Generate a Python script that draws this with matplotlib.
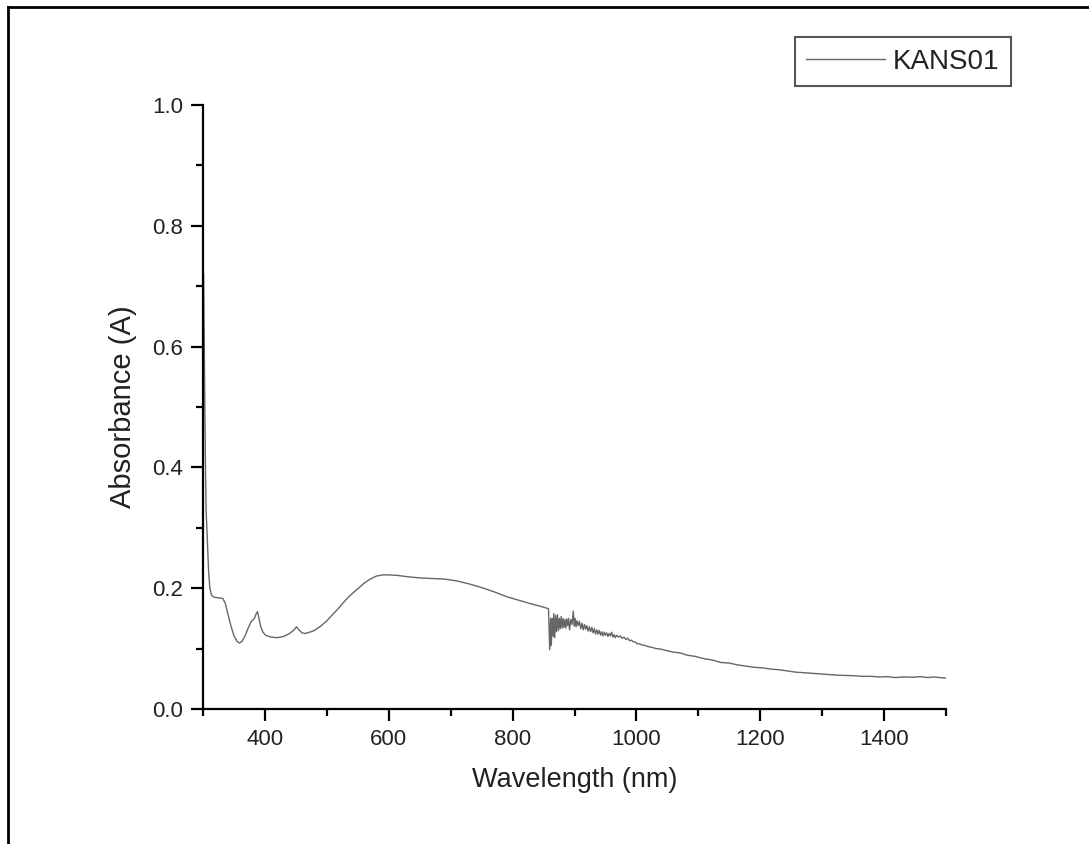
import matplotlib
matplotlib.use("Agg")
import matplotlib.pyplot as plt
from matplotlib.lines import Line2D
from matplotlib.ticker import MultipleLocator
from matplotlib.legend_handler import HandlerLine2D

plt.rcParams['font.family'] = ['Liberation Sans', 'DejaVu Sans']

wl_uv_vis = [301, 302, 303, 304, 305, 307, 309, 311, 314, 318, 325, 332, 336, 340,
             345, 350, 355, 359, 363, 368, 373, 378, 383, 386, 388, 390, 393, 397,
             401, 410, 420, 430, 440, 447, 451, 455, 460, 465, 472, 480, 490, 500,
             510, 520, 530, 540, 550, 560, 570, 580, 590, 600, 615, 630, 650, 670,
             690, 710, 730, 750, 770, 790, 810, 830, 845, 855, 858]
abs_uv_vis = [0.72, 0.60, 0.50, 0.40, 0.33, 0.28, 0.23, 0.20, 0.188, 0.185, 0.184, 0.183,
              0.175, 0.158, 0.138, 0.121, 0.112, 0.109, 0.112, 0.121, 0.134, 0.145,
              0.150, 0.158, 0.161, 0.152, 0.137, 0.127, 0.122, 0.119, 0.118, 0.120,
              0.125, 0.131, 0.136, 0.131, 0.126, 0.125, 0.127, 0.130, 0.137, 0.146,
              0.157, 0.168, 0.180, 0.190, 0.199, 0.208, 0.215, 0.220, 0.222, 0.222,
              0.221, 0.219, 0.217, 0.216, 0.215, 0.212, 0.207, 0.201, 0.194, 0.186,
              0.180, 0.174, 0.170, 0.167, 0.166]

wl_noisy = [860, 861.5, 862.5, 864, 865.5, 866.5, 868, 869.5, 871, 872.5, 874, 875.5,
            877, 878.5, 880, 881.5, 883, 884.5, 886, 887.5, 889, 890.5, 892, 894, 896,
            898, 899.5, 901, 902.5, 904, 906, 908, 910, 912, 914, 916, 918, 920, 922,
            924, 926, 928, 930, 932, 934, 936, 938, 940, 942, 944, 946, 948, 950, 952,
            954, 956, 958, 960, 962, 964, 966, 968, 971, 974, 977, 980, 983, 986, 989,
            992, 995, 998, 1001, 1005, 1009, 1014, 1020, 1025, 1032, 1040, 1047]
abs_noisy = [0.098, 0.150, 0.105, 0.150, 0.120, 0.158, 0.118, 0.155, 0.128, 0.156, 0.130,
             0.150, 0.133, 0.153, 0.134, 0.150, 0.135, 0.148, 0.134, 0.149, 0.138, 0.150,
             0.131, 0.148, 0.140, 0.162, 0.137, 0.150, 0.136, 0.146, 0.138, 0.145, 0.133,
             0.142, 0.131, 0.140, 0.132, 0.138, 0.129, 0.136, 0.128, 0.135, 0.126, 0.133,
             0.124, 0.131, 0.124, 0.130, 0.122, 0.128, 0.121, 0.127, 0.122, 0.126, 0.120,
             0.125, 0.121, 0.127, 0.119, 0.123, 0.118, 0.122, 0.119, 0.121, 0.117, 0.119,
             0.115, 0.117, 0.113, 0.114, 0.111, 0.111, 0.108, 0.108, 0.106, 0.105, 0.103,
             0.102, 0.100, 0.099, 0.097]

wl_nir = [1060, 1070, 1082, 1095, 1110, 1123, 1136, 1150, 1163, 1177, 1190, 1204, 1217,
          1230, 1244, 1257, 1270, 1284, 1297, 1310, 1324, 1337, 1351, 1365, 1378, 1392,
          1405, 1418, 1432, 1445, 1459, 1470, 1480, 1490, 1500]
abs_nir = [0.094, 0.093, 0.089, 0.087, 0.083, 0.081, 0.077, 0.076, 0.073, 0.071, 0.069,
           0.068, 0.066, 0.065, 0.063, 0.061, 0.060, 0.059, 0.058, 0.057, 0.056, 0.0555,
           0.055, 0.054, 0.054, 0.053, 0.0535, 0.052, 0.053, 0.0525, 0.0535, 0.052,
           0.053, 0.052, 0.051]

wavelength = wl_uv_vis + wl_noisy + wl_nir
absorbance = abs_uv_vis + abs_noisy + abs_nir

series_label = "KANS01"
x_label = "Wavelength (nm)"
y_label = "Absorbance (A)"
x_ticks = [400, 600, 800, 1000, 1200, 1400]
y_ticks = [0.0, 0.2, 0.4, 0.6, 0.8, 1.0]

fig = plt.figure(figsize=(10.89, 8.44), dpi=100)
ax = fig.add_axes([0.1864, 0.1600, 0.6823, 0.7156])

ax.plot(wavelength, absorbance, color='#666666', lw=1.0, label=series_label)

ax.set_xlim(300, 1500)
ax.set_ylim(0, 1.0)
ax.set_xticks(x_ticks)
ax.set_yticks(y_ticks)
ax.set_yticklabels([f"{v:.1f}" for v in y_ticks])
ax.xaxis.set_minor_locator(MultipleLocator(100))
ax.yaxis.set_minor_locator(MultipleLocator(0.1))

for s in ['top', 'right']:
    ax.spines[s].set_visible(False)
for s in ['left', 'bottom']:
    ax.spines[s].set_linewidth(1.6)
    ax.spines[s].set_color('black')

ax.tick_params(which='major', direction='out', length=8.5, width=1.6, labelsize=16,
               pad=6, colors='black', labelcolor='#222222')
ax.tick_params(which='minor', direction='out', length=5, width=1.6, colors='black')

ax.set_xlabel(x_label, fontsize=19.5, labelpad=12, color='#222222')
ax.set_ylabel(y_label, fontsize=21, labelpad=11, color='#222222')


class InsetLineHandler(HandlerLine2D):
    def create_artists(self, legend, orig_handle, xdescent, ydescent, width,
                       height, fontsize, trans):
        artists = super().create_artists(legend, orig_handle, xdescent, ydescent,
                                         width, height, fontsize, trans)
        for a in artists:
            xd = list(a.get_xdata())
            if len(xd) == 2:
                a.set_xdata([xd[0] + 0.37 * fontsize, xd[1]])
        return artists


leg = ax.legend(loc='upper right', bbox_to_anchor=(0.9284, 0.9562),
                bbox_transform=fig.transFigure, fontsize=20, fancybox=False,
                framealpha=1, edgecolor='#555555', handlelength=2.82,
                borderpad=0.42, handletextpad=0.3, borderaxespad=0,
                handler_map={Line2D: InsetLineHandler()})
leg.get_frame().set_linewidth(1.5)
for t in leg.get_texts():
    t.set_color('#222222')

# figure border (top and left edges)
fig.add_artist(Line2D([0.0076, 0.0076], [0.0, 0.9915], transform=fig.transFigure,
                      color='black', lw=2))
fig.add_artist(Line2D([0.0076, 1.0], [0.9915, 0.9915], transform=fig.transFigure,
                      color='black', lw=2))

fig.savefig('out.png', dpi=100)
